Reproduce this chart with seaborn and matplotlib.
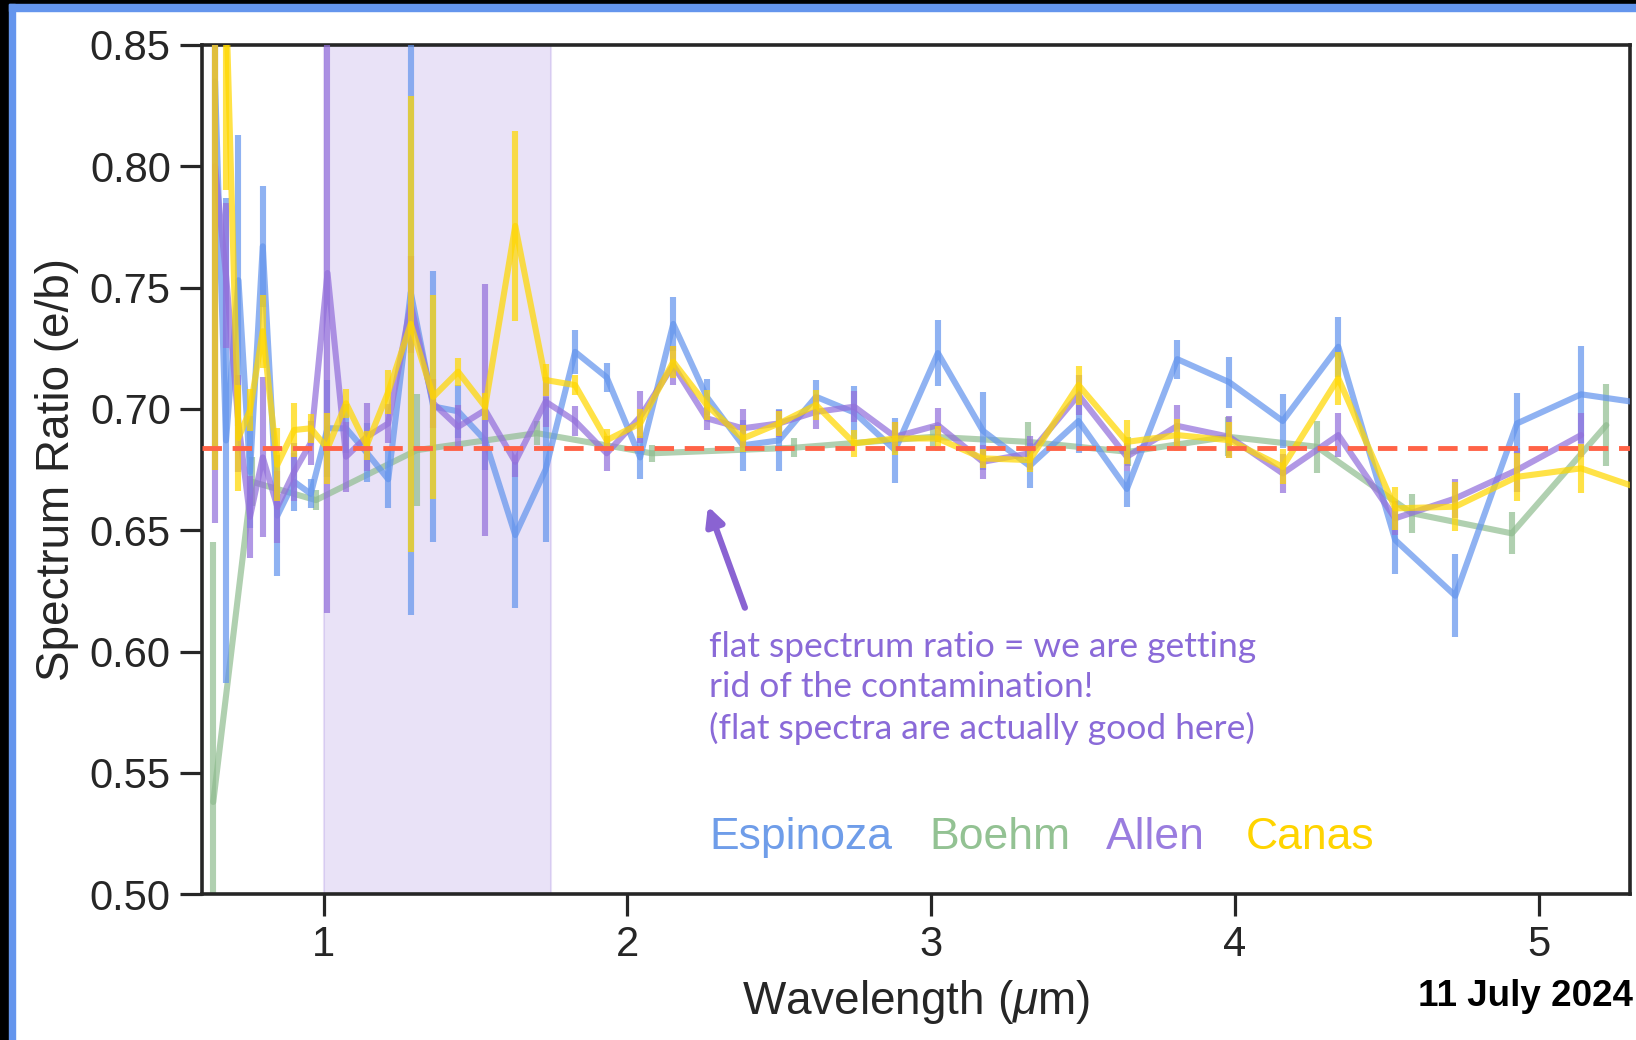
import numpy as np
import pandas as pd
import matplotlib
matplotlib.use("Agg")
import matplotlib.pyplot as plt
from matplotlib.patches import Rectangle
import seaborn as sns

# ---------------- data ----------------
wave = [0.643, 0.679, 0.720, 0.758, 0.800, 0.848, 0.903, 0.958, 1.013, 1.074,
        1.142, 1.213, 1.287, 1.361, 1.443, 1.532, 1.631, 1.731, 1.828, 1.932,
        2.042, 2.151, 2.261, 2.380, 2.499, 2.621, 2.747, 2.881, 3.022, 3.170,
        3.324, 3.485, 3.644, 3.810, 3.981, 4.157, 4.340, 4.527, 4.725, 4.928,
        5.139, 5.360]

espinoza = [0.835, 0.687, 0.753, 0.674, 0.767, 0.656, 0.670, 0.665, 0.692, 0.692,
            0.682, 0.671, 0.748, 0.701, 0.699, 0.687, 0.648, 0.675, 0.7235, 0.713,
            0.680, 0.735, 0.705, 0.685, 0.687, 0.705, 0.6985, 0.683, 0.723, 0.691,
            0.6765, 0.695, 0.667, 0.7205, 0.711, 0.695, 0.7256, 0.646, 0.623, 0.694,
            0.706, 0.702]
espinoza_err = [0.16, 0.10, 0.06, 0.023, 0.025, 0.025, 0.012, 0.006, 0.02, 0.01,
                0.012, 0.012, 0.133, 0.056, 0.011, 0.012, 0.030, 0.03, 0.009, 0.006,
                0.009, 0.011, 0.0075, 0.0105, 0.0128, 0.007, 0.011, 0.0134, 0.0137, 0.016,
                0.0093, 0.013, 0.0075, 0.008, 0.0105, 0.0113, 0.0124, 0.014, 0.0172, 0.0125,
                0.02, 0.015]

allen = [0.800, 0.755, 0.694, 0.6555, 0.680, 0.6596, 0.674, 0.686, 0.756, 0.6803,
         0.6885, 0.694, 0.743, 0.7023, 0.6926, 0.6995, 0.6782, 0.703, 0.695, 0.6817,
         0.6967, 0.718, 0.6961, 0.692, 0.694, 0.6988, 0.7009, 0.6885, 0.6933, 0.6782,
         0.6817, 0.7057, 0.6803, 0.693, 0.6885, 0.6734, 0.6892, 0.6549, 0.6631, 0.6748,
         0.6892, np.nan]
allen_err = [0.147, 0.03, 0.02, 0.017, 0.033, 0.015, 0.012, 0.009, 0.14, 0.0145,
             0.014, 0.008, 0.02, 0.01, 0.009, 0.052, 0.0062, 0.0103, 0.0062, 0.0072,
             0.0106, 0.008, 0.0048, 0.008, 0.0055, 0.0069, 0.0065, 0.006, 0.007, 0.007,
             0.007, 0.0082, 0.0058, 0.0086, 0.0086, 0.0082, 0.009, 0.007, 0.0082, 0.009,
             0.009, np.nan]

canas = [0.86, 0.87, 0.688, 0.6995, 0.732, 0.677, 0.6913, 0.692, 0.6837, 0.7023,
         0.685, 0.707, 0.735, 0.705, 0.7153, 0.7009, 0.7754, 0.7119, 0.7098, 0.6871,
         0.694, 0.7194, 0.7016, 0.6878, 0.694, 0.7016, 0.6858, 0.6878, 0.6878, 0.6796,
         0.6789, 0.7098, 0.6864, 0.6892, 0.6871, 0.6761, 0.7126, 0.659, 0.6597, 0.672,
         0.6755, 0.666]
canas_err = [0.185, 0.08, 0.022, 0.0086, 0.015, 0.015, 0.011, 0.006, 0.0148, 0.006,
             0.006, 0.009, 0.094, 0.042, 0.0058, 0.0055, 0.039, 0.0065, 0.004, 0.0045,
             0.006, 0.0065, 0.006, 0.0055, 0.005, 0.006, 0.0055, 0.007, 0.005, 0.004,
             0.005, 0.008, 0.009, 0.0065, 0.0075, 0.0072, 0.011, 0.009, 0.01, 0.01,
             0.01, 0.01]

wave_boehm = [0.637, 0.764, 0.975, 1.307, 1.702, 2.080, 2.550, 3.007, 3.320, 3.649,
              3.978, 4.269, 4.582, 4.911, 5.222]
boehm = [0.538, 0.670, 0.6624, 0.683, 0.690, 0.6817, 0.684, 0.6885, 0.6864, 0.6823,
         0.6885, 0.6844, 0.657, 0.6487, 0.6933]
boehm_err = [0.107, 0.01, 0.004, 0.023, 0.005, 0.0035, 0.004, 0.005, 0.008, 0.006,
             0.008, 0.0107, 0.008, 0.0087, 0.017]

flat_level = 0.684
shade_range = (1.0, 1.75)

names = ["Espinoza", "Boehm", "Allen", "Canas"]
line_colors = {"Espinoza": "cornflowerblue", "Boehm": "darkseagreen",
               "Allen": "mediumpurple", "Canas": "gold"}
text_colors = {"Espinoza": "#6f9de9", "Boehm": "#93c293",
               "Allen": "#9a7ddf", "Canas": "#ffd400"}

annotation = ("flat spectrum ratio = we are getting\n"
              "rid of the contamination!\n"
              "(flat spectra are actually good here)")
date_text = "11 July 2024"

# ---------------- figure ----------------
sns.set_theme(style="ticks")
plt.rcParams["font.family"] = ["Liberation Sans", "DejaVu Sans"]
plt.rcParams["mathtext.fontset"] = "custom"
plt.rcParams["mathtext.it"] = "Liberation Sans:italic"
plt.rcParams["mathtext.rm"] = "Liberation Sans"

W, H = 1636, 1040
fig = plt.figure(figsize=(W / 100, H / 100), dpi=100)
fig.patch.set_facecolor("white")
ax = fig.add_axes([202 / W, 1 - 894.2 / H, (1630 - 202) / W, (894.2 - 44.9) / H])

ax.axvspan(*shade_range, facecolor="mediumpurple", alpha=0.2,
           edgecolor="mediumpurple", lw=1.5, zorder=0)

series = {
    "Espinoza": (wave, espinoza, espinoza_err, 0.72),
    "Boehm": (wave_boehm, boehm, boehm_err, 0.7),
    "Allen": (wave, allen, allen_err, 0.72),
    "Canas": (wave, canas, canas_err, 0.72),
}
order = ["Boehm", "Espinoza", "Allen", "Canas"]
for z, name in enumerate(order):
    x, y, e, a = series[name]
    df = pd.DataFrame({"x": x, "y": y, "e": e}).dropna()
    c = line_colors[name]
    sns.lineplot(data=df, x="x", y="y", color=c, lw=4.4, alpha=a, sort=False,
                 ax=ax, zorder=2 + z, estimator=None)
    ax.errorbar(df["x"], df["y"], yerr=df["e"], fmt="none", ecolor=c,
                elinewidth=4.4, capsize=0, alpha=a, zorder=2 + z)

ax.axhline(flat_level, color="tomato", lw=3.5, ls=(0, (4, 2.2)), zorder=10)

ax.set_xlim(0.6, 5.3)
ax.set_ylim(0.5, 0.85)
ax.set_xticks([1, 2, 3, 4, 5])
ax.set_yticks(np.arange(0.50, 0.851, 0.05))
ax.yaxis.set_major_formatter(matplotlib.ticker.FormatStrFormatter("%.2f"))
ax.tick_params(axis="both", labelsize=30, length=15.5, width=2.3,
               color="#262626", labelcolor="#262626", pad=7)
for s in ax.spines.values():
    s.set_linewidth(2.6)
    s.set_color("#262626")
    s.set_visible(True)

ax.set_xlabel(r"Wavelength ($\mu$m)", fontsize=33, color="#262626")
ax.set_ylabel("Spectrum Ratio (e/b)", fontsize=33, color="#262626")
ax.yaxis.set_label_coords(-0.086, 0.5)
ax.xaxis.set_label_coords(0.5, -0.099)

# annotation + arrow
ax.text(2.27, 0.6085, annotation, color="#8a6ad8", fontsize=25.5,
        family=["Lato", "DejaVu Sans"], va="top", ha="left", linespacing=1.31,
        zorder=12)
ax.annotate("", xy=(2.262, 0.661), xytext=(2.39, 0.617),
            arrowprops=dict(arrowstyle="-|>,head_length=0.9,head_width=0.45",
                            color="#8a63d2", lw=4.5), zorder=12)

# legend as coloured words
legend_x = [2.27, 2.995, 3.575, 4.035]
for name, lx in zip(names, legend_x):
    ax.text(lx, 0.5232, name, color=text_colors[name], fontsize=32,
            va="center", ha="left", zorder=12)

fig.text(1633 / W, 1 - 997 / H, date_text, fontsize=26.5, fontweight="bold",
         color="black", ha="right", va="center")

# slide frame (black strip + blue border)
fig.patches.append(Rectangle((0, 0), 9 / W, 1, transform=fig.transFigure,
                             color="black", zorder=0))
fig.patches.append(Rectangle((0, 1 - 4 / H), 1, 4 / H, transform=fig.transFigure,
                             color="black", zorder=0))
fig.patches.append(Rectangle((9 / W, 0), 6 / W, 1 - 4 / H, transform=fig.transFigure,
                             color="#6495ed", zorder=1))
fig.patches.append(Rectangle((9 / W, 1 - 11 / H), 1, 7 / H, transform=fig.transFigure,
                             color="#6495ed", zorder=1))

fig.savefig("out.png", dpi=100, facecolor="white")
